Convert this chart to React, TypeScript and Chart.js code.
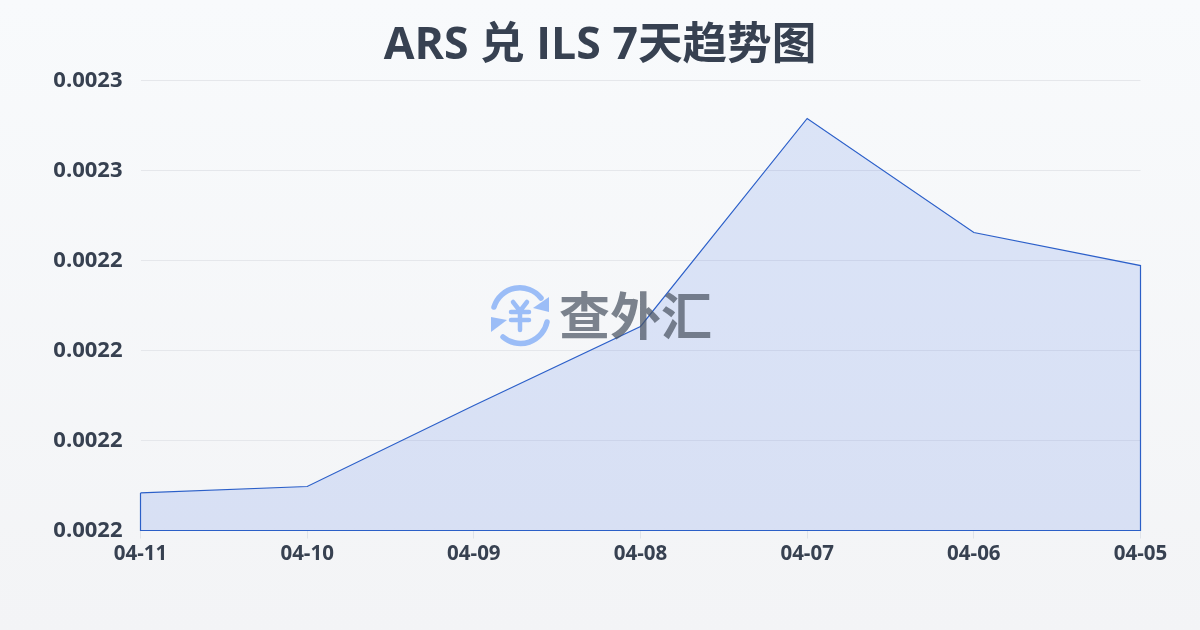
import React, { useEffect, useRef } from "react";
import { Chart, registerables } from "chart.js";

Chart.register(...registerables);

const dates = ["04-11", "04-10", "04-09", "04-08", "04-07", "04-06", "04-05"];
const rates = [0.00221617, 0.00221689, 0.00222589, 0.00223467, 0.00225778, 0.00224511, 0.00224144];
const yMin = 0.002212;
const yMax = 0.002262;
const yStep = 0.00001;
const titleText = "ARS 兑 ILS 7天趋势图";
const watermarkText = "查外汇";

const FONT = '"Open Sans", "Noto Sans CJK SC", sans-serif';
const INK = "#374151";

export default function App() {
  const ref = useRef<HTMLCanvasElement>(null);
  useEffect(() => {
    document.body.style.margin = "0";
    const outline = [
      ...dates.map((d, i) => ({ x: d, y: rates[i] })),
      { x: dates[dates.length - 1], y: yMin },
      { x: dates[0], y: yMin },
      { x: dates[0], y: rates[0] },
    ];
    const chart = new Chart(ref.current!, {
      type: "line",
      data: {
        labels: dates,
        datasets: [
          {
            data: rates,
            borderWidth: 0,
            pointRadius: 0,
            tension: 0,
            fill: "start",
            backgroundColor: "rgba(59,108,228,0.15)",
          },
          {
            data: outline as any,
            borderWidth: 1.2,
            borderColor: "#2b5fc7",
            pointRadius: 0,
            tension: 0,
            fill: false,
            clip: false,
          } as any,
        ],
      },
      options: {
        animation: false,
        responsive: false,
        layout: { padding: 0 },
        plugins: {
          legend: { display: false },
          tooltip: { enabled: false },
          title: {
            display: true,
            text: titleText,
            color: INK,
            font: { family: FONT, size: 44.6, weight: "bold", lineHeight: 1.2 },
            padding: { top: 20, bottom: 6.98 },
          },
        },
        scales: {
          x: {
            type: "category",
            offset: false,
            border: { display: false },
            grid: { drawOnChartArea: false, drawTicks: true, tickLength: 8, color: "#dfe3e9" },
            ticks: {
              color: INK,
              font: { family: FONT, size: 20.5, weight: "bold" },
              padding: 3,
              maxRotation: 0,
              autoSkip: false,
            },
            afterFit: (s: any) => {
              s.height = 99.5;
            },
          },
          y: {
            min: yMin,
            max: yMax,
            border: { display: false },
            grid: { drawTicks: false, color: "#e5e7eb" },
            ticks: {
              stepSize: yStep,
              color: INK,
              font: { family: FONT, size: 22, weight: "bold" },
              padding: 18,
              callback: (v: any) => Number(v).toFixed(4),
            },
            afterFit: (s: any) => {
              s.width = 140.5;
            },
          },
          spacer: {
            position: "right",
            min: yMin,
            max: yMax,
            border: { display: false },
            grid: { display: false, drawOnChartArea: false },
            ticks: { display: false },
            afterFit: (s: any) => {
              s.width = 59.5;
            },
          },
        },
      },
    } as any);
    return () => chart.destroy();
  }, []);

  return (
    <div
      style={{
        position: "relative",
        width: 1200,
        height: 630,
        overflow: "hidden",
        background: "linear-gradient(180deg, #f8fafc 0%, #f3f4f6 100%)",
      }}
    >
      <canvas ref={ref} width={1200} height={630} style={{ display: "block" }} />
      <div
        style={{
          position: "absolute",
          left: 488,
          top: 283,
          width: 230,
          height: 64,
          display: "flex",
          alignItems: "center",
          pointerEvents: "none",
        }}
      >
        <svg width="64" height="64" viewBox="0 0 64 64" style={{ flex: "none" }}>
          <g fill="none" stroke="#9bbdf7" strokeWidth="5.5" strokeLinecap="round">
            <path d="M6 24 A27 27 0 0 1 53 15" />
            <path d="M59 39 A27 27 0 0 1 15 54" />
            <path d="M25 19 L32 28 L39 19 M23 29 H41 M23 37 H41 M32 28 V47" strokeWidth="4.5" />
          </g>
          <path d="M61 14 L61 29 L45 25 Z" fill="#9bbdf7" />
          <path d="M3 34 L3 49 L19 37 Z" fill="#9bbdf7" />
        </svg>
        <span
          style={{
            position: "relative",
            top: -2,
            marginLeft: 7,
            font: `bold 51px "Noto Sans CJK SC", sans-serif`,
            color: "rgba(75,85,99,0.72)",
            lineHeight: "64px",
            whiteSpace: "nowrap",
          }}
        >
          {watermarkText}
        </span>
      </div>
    </div>
  );
}
